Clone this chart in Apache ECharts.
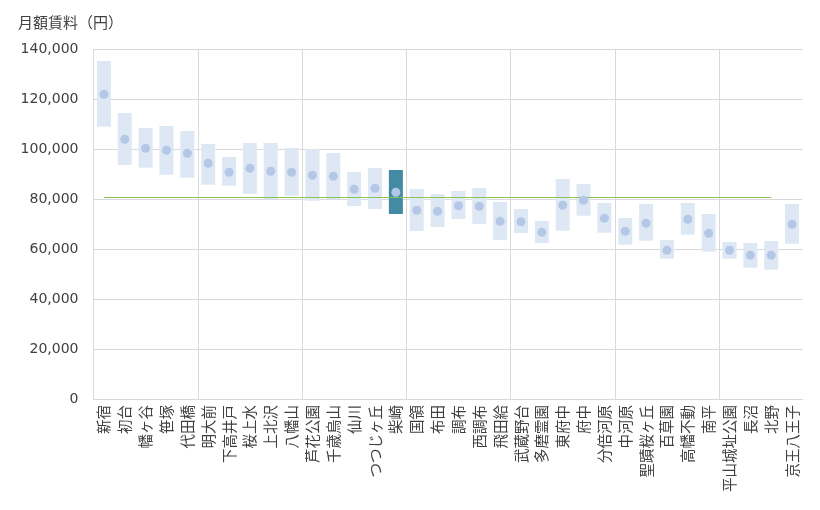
<!DOCTYPE html>
<html>
<head>
<meta charset="utf-8">
<script src="https://cdn.jsdelivr.net/npm/echarts@6/dist/echarts.min.js"></script>
<style>html,body{margin:0;padding:0;background:#fff;}#chart{width:820px;height:510px;}</style>
</head>
<body>
<div id="chart"></div>
<script>
const categories = ['新宿','初台','幡ヶ谷','笹塚','代田橋','明大前','下高井戸','桜上水','上北沢','八幡山','芦花公園','千歳烏山','仙川','つつじヶ丘','柴崎','国領','布田','調布','西調布','飛田給','武蔵野台','多磨霊園','東府中','府中','分倍河原','中河原','聖蹟桜ヶ丘','百草園','高幡不動','南平','平山城址公園','長沼','北野','京王八王子'];
const lowValues = [108900,93600,92500,89700,88500,85700,85300,82100,80000,81300,79300,80000,77200,76000,74000,67200,68800,72000,70000,63600,66400,62400,67300,73300,66500,61700,63300,56100,65700,58900,56100,52500,51700,62100];
const highValues = [135200,114400,108400,109200,107200,102000,96800,102400,102400,100400,99900,98400,90800,92400,91600,84000,82000,83200,84400,78800,76000,71200,88000,86000,78400,72400,78000,63600,78400,74000,62800,62400,63200,78000];
const dotValues = [121900,103900,100300,99500,98300,94300,90700,92300,91100,90700,89500,89100,83900,84300,82700,75500,75100,77300,77100,71100,70900,66700,77500,79500,72300,67100,70300,59500,71900,66300,59500,57500,57500,69900];
const averageValue = 80700;
const averageFrom = '新宿';
const averageTo = '北野';
const highlightCategory = '柴崎';
const yTicks = {min: 0, max: 140000, step: 20000};

const chart = echarts.init(document.getElementById('chart'));
const rangeData = categories.map((c, i) => ({
  value: highValues[i] - lowValues[i],
  itemStyle: {color: c === highlightCategory ? '#428BA3' : '#DEE8F4'}
}));
chart.setOption({
  animation: false,
  title: {text: '月額賃料（円）', left: 13, top: 10, textStyle: {fontSize: 15, fontWeight: 'normal', color: '#404040', fontFamily: 'Noto Sans CJK JP'}},
  grid: {left: 93.5, right: 17.5, top: 49, bottom: 111},
  xAxis: {
    type: 'category', data: categories, boundaryGap: true,
    axisLine: {lineStyle: {color: '#D9D9D9'}},
    axisTick: {show: false},
    splitLine: {show: true, showMaxLine: false, interval: (idx) => idx % 5 === 0 && idx < categories.length - 1, lineStyle: {color: '#D9D9D9'}},
    axisLabel: {interval: 0, rotate: 90, margin: 6, fontSize: 14.5, color: '#404040', fontFamily: 'Noto Sans CJK JP'}
  },
  yAxis: {
    type: 'value', min: yTicks.min, max: yTicks.max, interval: yTicks.step,
    axisLine: {show: false}, axisTick: {show: false},
    splitLine: {lineStyle: {color: '#D9D9D9'}},
    axisLabel: {margin: 15, fontSize: 14, color: '#404040', fontFamily: 'DejaVu Sans', formatter: v => v.toLocaleString('en-US')}
  },
  series: [
    {type: 'bar', stack: 'r', data: lowValues, barWidth: 14, itemStyle: {color: 'rgba(0,0,0,0)'}, silent: true},
    {type: 'bar', stack: 'r', data: rangeData, barWidth: 14,
      markLine: {silent: true, symbol: 'none', label: {show: false},
        lineStyle: {color: '#8CC25A', width: 1, type: 'solid'},
        data: [[{coord: [averageFrom, averageValue]}, {coord: [averageTo, averageValue]}]]}
    },
    {type: 'scatter', data: dotValues, symbolSize: 9, itemStyle: {color: '#B4C7E7', opacity: 1}, z: 5}
  ]
});
</script>
</body>
</html>
